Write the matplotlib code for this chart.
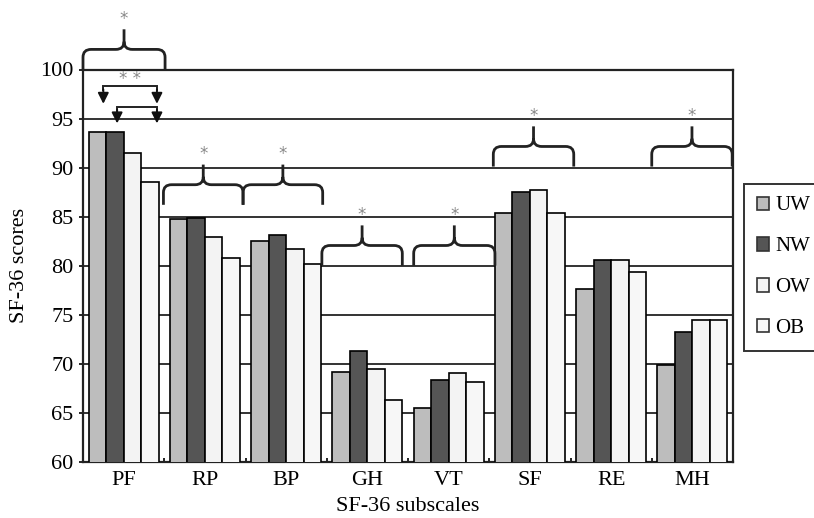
import matplotlib
matplotlib.use("Agg")
import matplotlib.pyplot as plt
from matplotlib.path import Path
from matplotlib.patches import PathPatch, Patch
import numpy as np

plt.rcParams['font.family'] = ['Liberation Serif', 'DejaVu Serif']

categories = ["PF", "RP", "BP", "GH", "VT", "SF", "RE", "MH"]
groups = ["UW", "NW", "OW", "OB"]
uw = [93.6, 84.8, 82.5, 69.1, 65.5, 85.4, 77.6, 69.9]
nw = [93.6, 84.9, 83.1, 71.3, 68.3, 87.5, 80.6, 73.2]
ow = [91.5, 82.9, 81.7, 69.5, 69.0, 87.7, 80.6, 74.5]
ob = [88.5, 80.8, 80.2, 66.3, 68.1, 85.4, 79.3, 74.5]
series = [uw, nw, ow, ob]
colors = ["#bdbdbd", "#555555", "#f3f3f3", "#f7f7f7"]
yticks = [60, 65, 70, 75, 80, 85, 90, 95, 100]

# significance braces: (x start, x end, base y, label)
braces = [(-0.5, 0.51, 100.0, "*"),
          (0.49, 1.47, 86.2, "*"),
          (1.47, 2.45, 86.2, "*"),
          (2.44, 3.43, 80.0, "*"),
          (3.57, 4.57, 80.0, "*"),
          (4.55, 5.54, 90.1, "*"),
          (6.50, 7.49, 90.1, "*")]

fig = plt.figure(figsize=(8.14, 5.18), dpi=100)
ax = fig.add_axes([83/814, 1-461.7/518, 650/814, (461.7-69.5)/518])

x = np.arange(len(categories))
w = 0.215
for i, (vals, c) in enumerate(zip(series, colors)):
    ax.bar(x + (i - 1.5) * w, vals, width=w, color=c, edgecolor="black",
           linewidth=1.2, label=groups[i], zorder=3)

ax.set_xlim(-0.5, len(categories) - 0.5)
ax.set_ylim(60, 100)
ax.set_yticks(yticks)
ax.set_yticklabels([str(t) for t in yticks], fontsize=16)
ax.set_xticks(x)
ax.set_xticklabels(categories, fontsize=16)
ax.set_xticks(np.arange(0.5, len(categories) - 0.5, 1.0), minor=True)
ax.tick_params(axis='x', which='major', length=0, pad=7)
ax.tick_params(axis='x', which='minor', direction='in', length=3, width=1.2)
ax.tick_params(axis='y', direction='out', length=3, width=1.2, pad=4)
ax.set_axisbelow(True)
ax.yaxis.grid(True, color="#333333", linewidth=1.4, zorder=0)
for s in ax.spines.values():
    s.set_linewidth(1.6)
    s.set_color("#222222")

ax.set_xlabel("SF-36 subscales", fontsize=16, labelpad=5)
ax.set_ylabel("SF-36 scores", fontsize=16, labelpad=8)


def draw_brace(x0, x1, y0, label):
    h = 4.1
    ymid = y0 + h / 2
    ytip = y0 + h
    xc = (x0 + x1) / 2
    rx = 0.10
    ry = 0.8
    verts = [(x0, y0), (x0, ymid - ry), (x0, ymid), (x0 + rx, ymid),
             (xc - rx, ymid), (xc, ymid), (xc, ymid + ry), (xc, ytip),
             (x1, y0), (x1, ymid - ry), (x1, ymid), (x1 - rx, ymid),
             (xc + rx, ymid), (xc, ymid), (xc, ymid + ry)]
    codes = [Path.MOVETO, Path.LINETO, Path.CURVE3, Path.CURVE3,
             Path.LINETO, Path.CURVE3, Path.CURVE3, Path.LINETO,
             Path.MOVETO, Path.LINETO, Path.CURVE3, Path.CURVE3,
             Path.LINETO, Path.CURVE3, Path.CURVE3]
    p = PathPatch(Path(verts, codes), facecolor="none", edgecolor="#222222",
                  linewidth=2.0, clip_on=False, zorder=5)
    ax.add_patch(p)
    ax.text(xc, ytip + 1.1, label, ha="center", va="center", fontsize=12,
            color="#888888", family="DejaVu Sans", clip_on=False, zorder=6)


for b in braces:
    draw_brace(*b)

# "**" arrow brackets in PF
arrow_pairs = [(-0.25, 0.41, 98.27, 96.5), (-0.08, 0.41, 96.2, 94.5)]
for xa, xb, yh, ytp in arrow_pairs:
    ax.plot([xa, xa, xb, xb], [yh - 0.4, yh, yh, yh - 0.4], color="#222222",
            linewidth=1.4, zorder=5, solid_joinstyle='miter')
    for xx in (xa, xb):
        ax.annotate("", xy=(xx, ytp), xytext=(xx, yh - 0.3),
                    arrowprops=dict(arrowstyle="-|>", color="#111111",
                                    lw=1.4, mutation_scale=16,
                                    shrinkA=0, shrinkB=0), zorder=5)
ax.text(0.08, 99.0, "* *", ha="center", va="center", fontsize=12,
        color="#888888", family="DejaVu Sans", zorder=6)

handles = [Patch(facecolor=c, edgecolor="#333333", linewidth=1.2, label=g)
           for c, g in zip(colors, groups)]
leg = fig.legend(handles=handles, loc="upper left",
                 bbox_to_anchor=(744/814, 1-184/518), fontsize=15,
                 frameon=True, fancybox=False, edgecolor="black",
                 handlelength=0.6, handleheight=0.6, handletextpad=0.3,
                 labelspacing=1.05, borderpad=0.6, borderaxespad=0)
leg.get_frame().set_linewidth(1.4)

fig.savefig("out.png", dpi=100)
